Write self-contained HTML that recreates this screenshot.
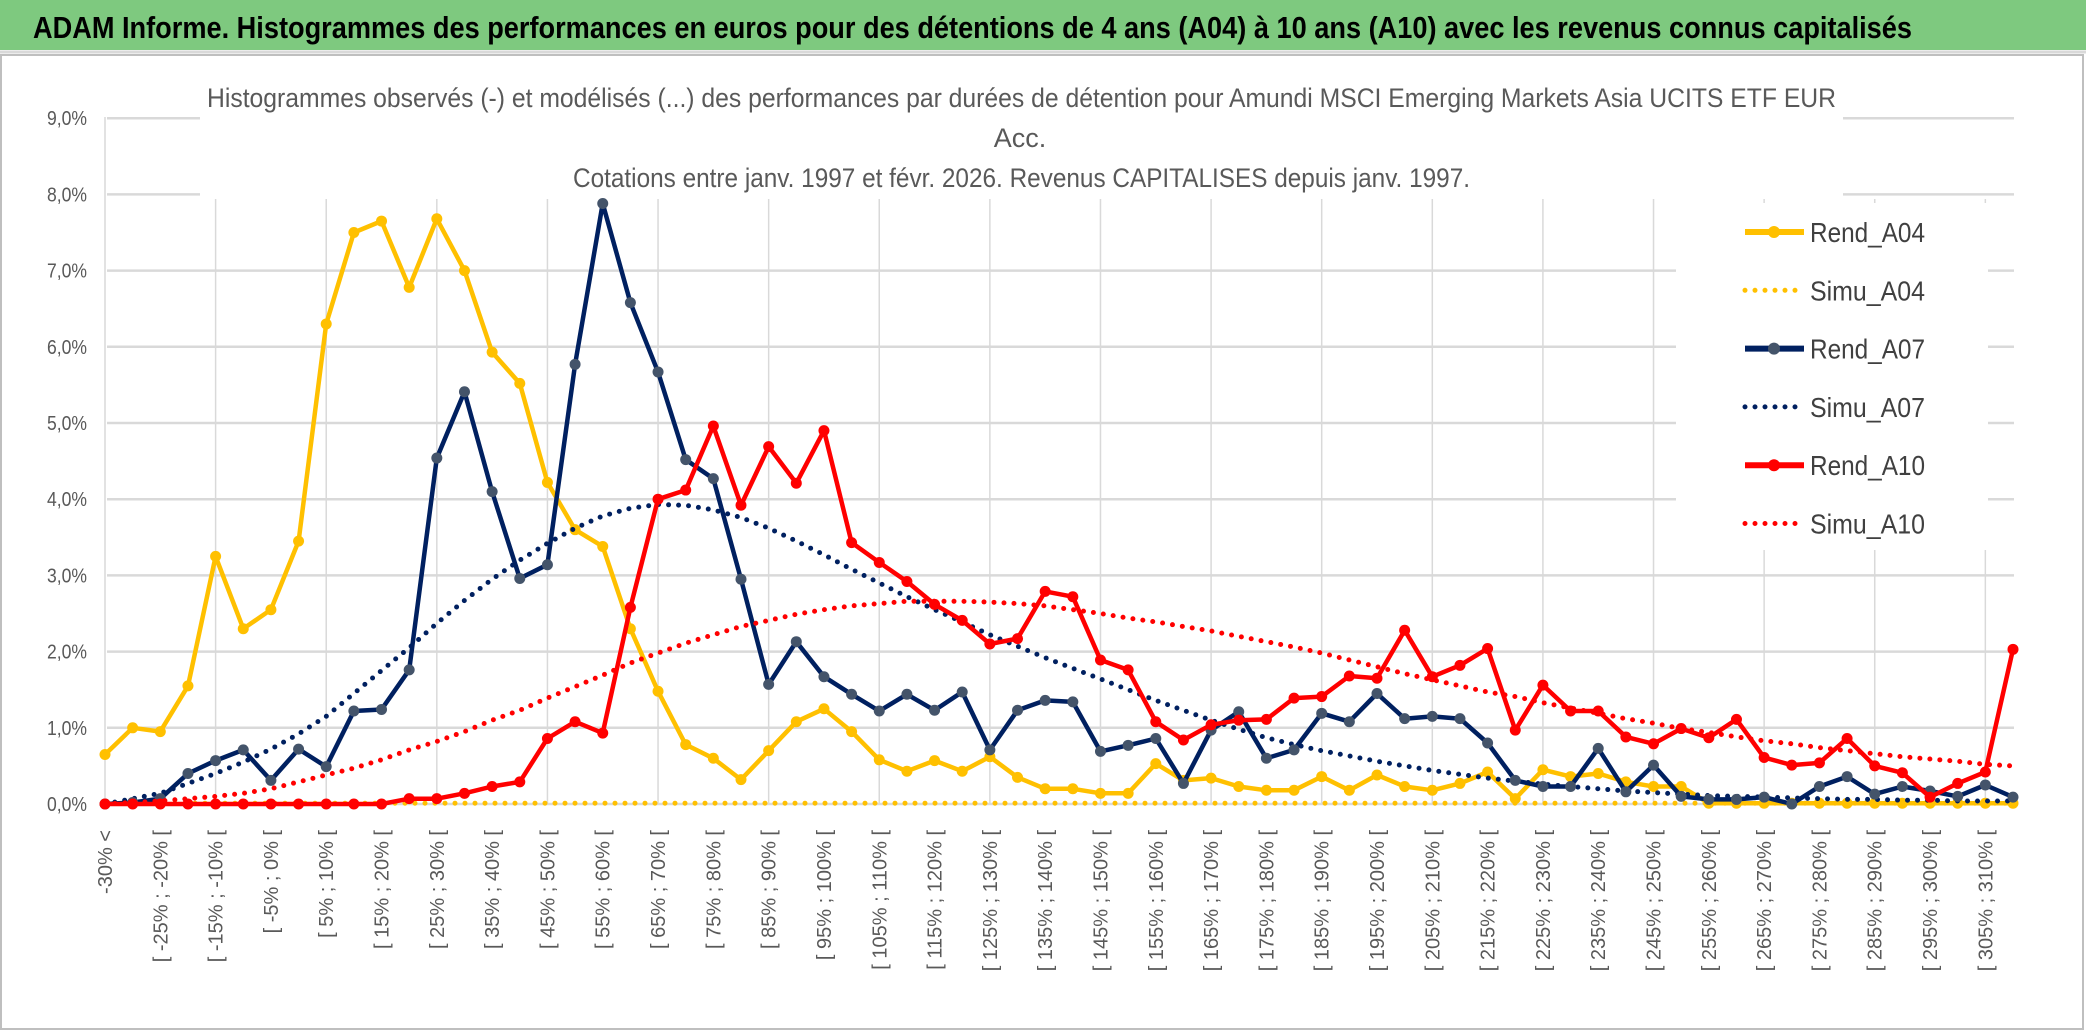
<!DOCTYPE html>
<html><head><meta charset="utf-8"><style>
html,body{margin:0;padding:0;background:#fff}
svg{display:block;font-family:"Liberation Sans",sans-serif}
</style></head><body>
<svg id="chart" xmlns="http://www.w3.org/2000/svg" width="2086" height="1031" viewBox="0 0 2086 1031">
<rect x="0" y="0" width="2086" height="1031" fill="#fff"/>
<rect x="0" y="0" width="2086" height="50" fill="#7ec97f"/>
<line x1="0" y1="52" x2="2086" y2="52" stroke="#d9d9d9" stroke-width="3"/>
<rect x="1" y="55" width="2082" height="974" fill="none" stroke="#bfbfbf" stroke-width="2"/>
<text x="33" y="38" font-size="31" font-weight="bold" fill="#000" textLength="1879" lengthAdjust="spacingAndGlyphs">ADAM Informe. Histogrammes des performances en euros pour des détentions de 4 ans (A04) à 10 ans (A10) avec les revenus connus capitalisés</text>
<g id="grid"></g>
<g id="series"></g>
<rect x="200" y="62" width="1643" height="136" fill="#fff"/>
<text x="207" y="107" font-size="27" fill="#595959" textLength="1629" lengthAdjust="spacingAndGlyphs">Histogrammes observés (-) et modélisés (...) des performances par durées de détention pour Amundi MSCI Emerging Markets Asia UCITS ETF EUR</text>
<text x="1020" y="147" font-size="27" fill="#595959" text-anchor="middle">Acc.</text>
<text x="573" y="187" font-size="27" fill="#595959" textLength="897" lengthAdjust="spacingAndGlyphs">Cotations entre janv. 1997 et févr. 2026. Revenus CAPITALISES depuis janv. 1997.</text>
<g id="legend"></g>
<g id="ylabels"></g>
<g id="xlabels"></g>
</svg>
<script>
const yTicks = [0,1,2,3,4,5,6,7,8,9];
const categories = (function(){const c=["-30% <"];for(let k=1;k<=68;k++){const lo=-30+5*(k-1);c.push("[ "+lo+"% ; "+(lo+5)+"% [");}c.push("> 310%");return c;})();
const rendA04 = [0.65,1.0,0.95,1.55,3.25,2.3,2.55,3.45,6.3,7.5,7.65,6.78,7.68,7.0,5.93,5.52,4.22,3.6,3.38,2.3,1.48,0.78,0.6,0.32,0.7,1.08,1.25,0.95,0.58,0.43,0.57,0.43,0.62,0.35,0.2,0.2,0.14,0.14,0.53,0.31,0.34,0.23,0.18,0.18,0.36,0.18,0.38,0.23,0.18,0.27,0.42,0.07,0.45,0.36,0.4,0.29,0.23,0.23,0.01,0.01,0.01,0.01,0.01,0.01,0.01,0.01,0.01,0.01,0.01,0.01];
const simuA04 = Array(70).fill(0.01);
const rendA07 = [0.0,0.02,0.07,0.4,0.57,0.71,0.31,0.72,0.49,1.22,1.24,1.76,4.54,5.41,4.1,2.96,3.14,5.77,7.88,6.58,5.67,4.52,4.27,2.95,1.57,2.13,1.67,1.44,1.22,1.44,1.23,1.47,0.71,1.23,1.36,1.34,0.69,0.77,0.86,0.27,0.97,1.21,0.6,0.71,1.19,1.08,1.45,1.12,1.15,1.12,0.8,0.31,0.23,0.23,0.73,0.16,0.51,0.1,0.06,0.06,0.09,0.0,0.23,0.36,0.13,0.23,0.17,0.1,0.25,0.09];
const simuA07 = [0.0,0.07,0.14,0.27,0.4,0.55,0.72,0.92,1.15,1.45,1.75,2.05,2.37,2.67,2.95,3.2,3.42,3.62,3.78,3.88,3.93,3.92,3.86,3.76,3.62,3.45,3.27,3.08,2.9,2.72,2.55,2.39,2.22,2.07,1.92,1.78,1.64,1.5,1.36,1.23,1.1,0.98,0.87,0.78,0.7,0.63,0.56,0.5,0.44,0.39,0.34,0.3,0.26,0.23,0.2,0.17,0.15,0.13,0.11,0.1,0.09,0.08,0.07,0.06,0.06,0.05,0.05,0.04,0.04,0.04];
const rendA10 = [0,0,0,0,0,0,0,0,0,0,0,0.07,0.07,0.14,0.23,0.29,0.86,1.08,0.93,2.58,4.0,4.12,4.96,3.92,4.69,4.21,4.9,3.43,3.17,2.92,2.62,2.41,2.1,2.17,2.79,2.72,1.89,1.76,1.08,0.84,1.04,1.1,1.11,1.39,1.41,1.68,1.65,2.28,1.67,1.82,2.04,0.97,1.56,1.22,1.22,0.88,0.79,0.99,0.87,1.11,0.61,0.51,0.54,0.86,0.5,0.41,0.09,0.27,0.42,2.03];
const simuA10 = [0.0,0.02,0.04,0.07,0.1,0.14,0.2,0.29,0.38,0.47,0.58,0.71,0.82,0.95,1.1,1.23,1.39,1.54,1.69,1.85,1.98,2.11,2.22,2.33,2.41,2.49,2.55,2.6,2.63,2.66,2.66,2.66,2.65,2.63,2.6,2.55,2.5,2.44,2.39,2.33,2.27,2.2,2.13,2.06,1.98,1.89,1.8,1.71,1.63,1.55,1.47,1.41,1.33,1.26,1.19,1.12,1.06,0.99,0.94,0.88,0.83,0.79,0.74,0.7,0.66,0.62,0.59,0.56,0.52,0.5];

const NS="http://www.w3.org/2000/svg";
const X0=105, DX=(2013-105)/69, Y0=804, DY=76.2;
const xs=i=>X0+i*DX;
const ys=v=>Y0-v*DY;
function mk(tag,parent){const e=document.createElementNS(NS,tag);parent.appendChild(e);return e;}
const grid=document.getElementById('grid');
yTicks.forEach(t=>{
  const l=mk('line',grid);
  
  
  l.setAttribute('x1',107);l.setAttribute('x2',2014);l.setAttribute('y1',ys(t));l.setAttribute('y2',ys(t));
  l.setAttribute('stroke','#d9d9d9');l.setAttribute('stroke-width',2.5);
  const tx=mk('text',document.getElementById('ylabels'));
  
  
  tx.setAttribute('x',87);tx.setAttribute('y',ys(t)+7);tx.setAttribute('text-anchor','end');
  tx.setAttribute('font-size',20);tx.setAttribute('fill','#595959');
  tx.setAttribute('textLength',40);tx.setAttribute('lengthAdjust','spacingAndGlyphs');
  tx.textContent=t.toFixed(1).replace('.',',')+'%';
});
categories.forEach((c,i)=>{
  if(i%4===0){
    const l=mk('line',grid);
    
    
    l.setAttribute('x1',xs(i));l.setAttribute('x2',xs(i));l.setAttribute('y1',i===0?117:199);l.setAttribute('y2',Y0);
    l.setAttribute('stroke','#d9d9d9');l.setAttribute('stroke-width',1.5);
  }
  if(i%2===0 && i<69){
    const tx=mk('text',document.getElementById('xlabels'));
    
    
    tx.setAttribute('transform','translate('+(xs(i)+7)+',830) rotate(-90)');
    tx.setAttribute('text-anchor','end');tx.setAttribute('font-size',20);tx.setAttribute('fill','#595959');
    tx.textContent=c;
  }
});
const seriesG=document.getElementById('series');
function pts(vals){return vals.map((v,i)=>xs(i).toFixed(1)+','+ys(v).toFixed(1)).join(' ');}
function dotted(vals,color,name){
  const p=mk('polyline',seriesG);
  
  
  p.setAttribute('points',pts(vals));p.setAttribute('fill','none');p.setAttribute('stroke',color);
  p.setAttribute('stroke-width',5);p.setAttribute('stroke-linecap','round');p.setAttribute('stroke-dasharray','0 10');
}
function solid(vals,color,mcolor,name){
  const p=mk('polyline',seriesG);
  
  
  p.setAttribute('points',pts(vals));p.setAttribute('fill','none');p.setAttribute('stroke',color);
  p.setAttribute('stroke-width',4.5);p.setAttribute('stroke-linejoin','round');
  vals.forEach((v,i)=>{
    const c=mk('circle',seriesG);
    
    
    c.setAttribute('cx',xs(i));c.setAttribute('cy',ys(v));c.setAttribute('r',5.5);c.setAttribute('fill',mcolor);
  });
}
dotted(simuA04,'#ffc000','simu-a04-line');
solid(rendA04,'#ffc000','#ffc000','rend-a04-line');
dotted(simuA07,'#002060','simu-a07-line');
solid(rendA07,'#002060','#44546a','rend-a07-line');
dotted(simuA10,'#ff0000','simu-a10-line');
solid(rendA10,'#ff0000','#ff0000','rend-a10-line');

const lg=document.getElementById('legend');
const bg=mk('rect',lg);


bg.setAttribute('x',1676);bg.setAttribute('y',203);bg.setAttribute('width',312);bg.setAttribute('height',347);bg.setAttribute('fill','#fff');
const legItems=[['Rend_A04','#ffc000','#ffc000',false],['Simu_A04','#ffc000','#ffc000',true],['Rend_A07','#002060','#44546a',false],['Simu_A07','#002060','#002060',true],['Rend_A10','#ff0000','#ff0000',false],['Simu_A10','#ff0000','#ff0000',true]];
legItems.forEach((it,k)=>{
  const cy=232+k*58.3;
  const l=mk('line',lg);
  
  
  l.setAttribute('x1',1745);l.setAttribute('x2',1804);l.setAttribute('y1',cy);l.setAttribute('y2',cy);l.setAttribute('stroke',it[1]);
  if(it[3]){l.setAttribute('stroke-width',5);l.setAttribute('stroke-linecap','round');l.setAttribute('stroke-dasharray','0 10');l.setAttribute('x2',1800);}
  else{l.setAttribute('stroke-width',6);
    const c=mk('circle',lg);
    
    
    c.setAttribute('cx',1774);c.setAttribute('cy',cy);c.setAttribute('r',6);c.setAttribute('fill',it[2]);}
  const t=mk('text',lg);
  
  
  t.setAttribute('x',1810);t.setAttribute('y',cy+10);t.setAttribute('font-size',28);t.setAttribute('fill','#404040');
  t.setAttribute('textLength',115);t.setAttribute('lengthAdjust','spacingAndGlyphs');
  t.textContent=it[0];
});
</script>
</body></html>
